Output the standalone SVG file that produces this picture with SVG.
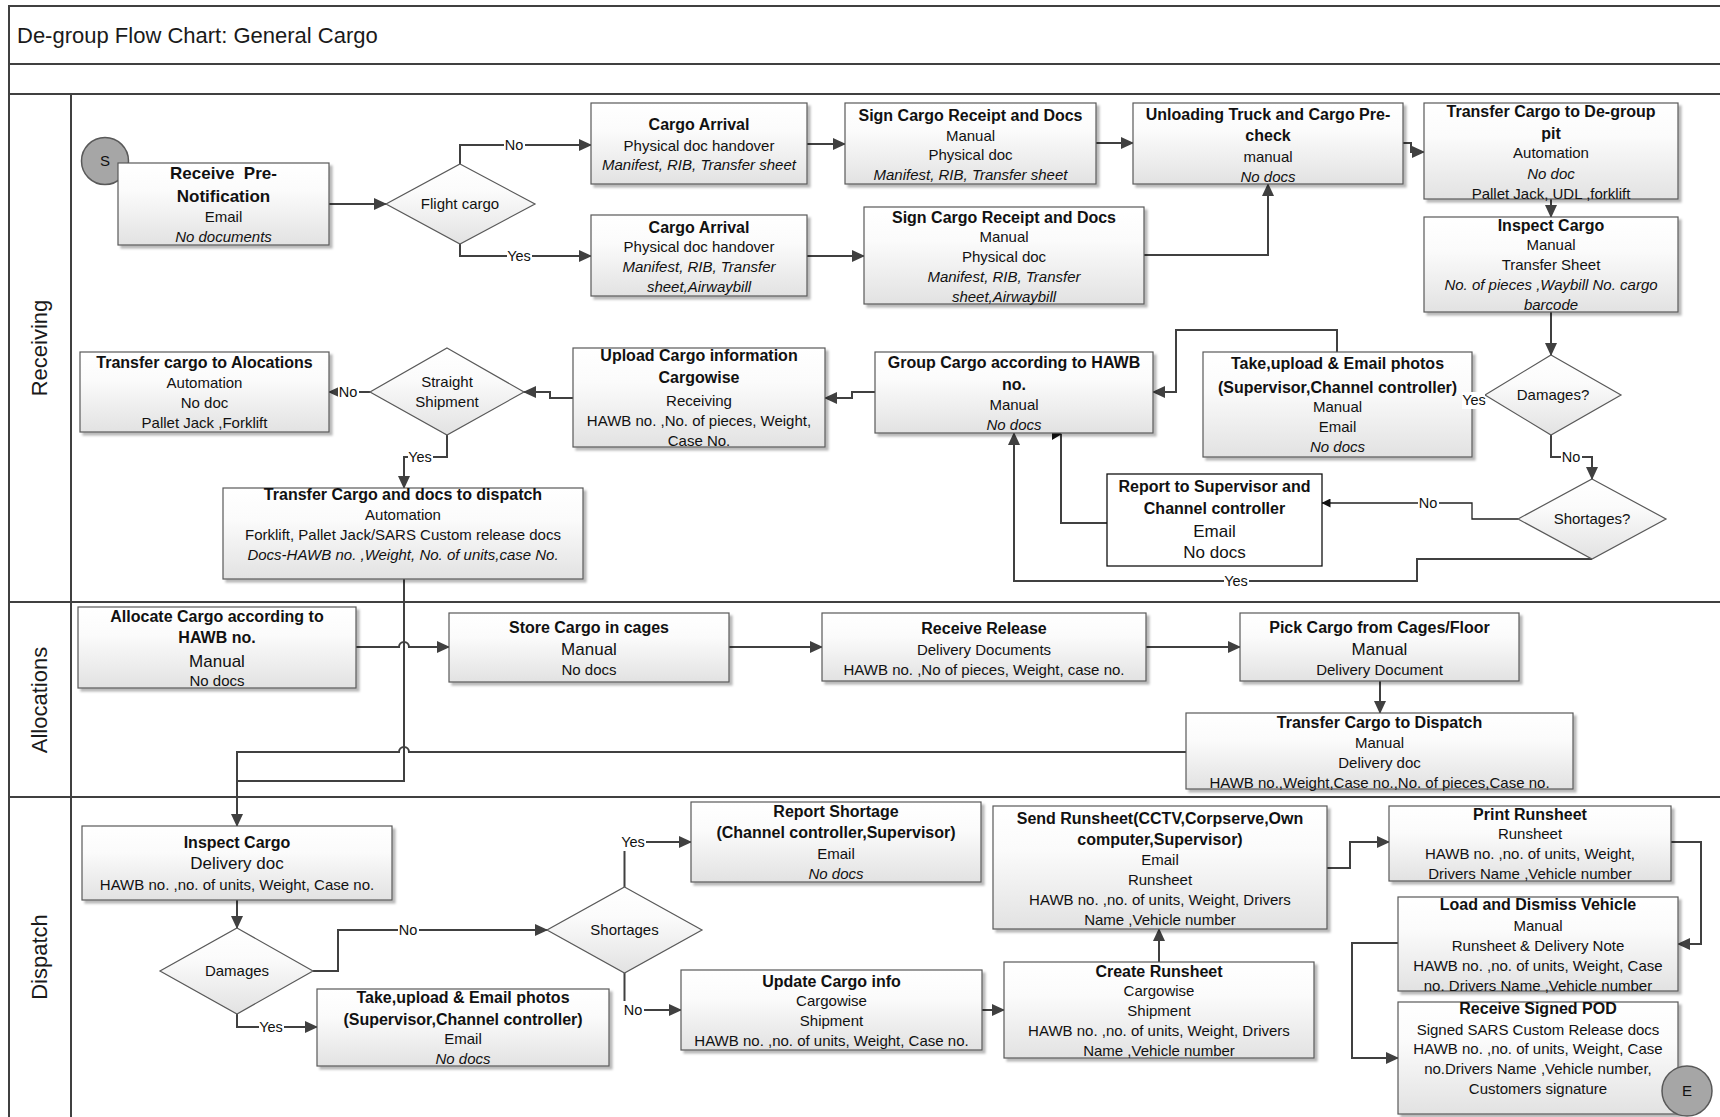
<svg xmlns="http://www.w3.org/2000/svg" width="1720" height="1117" viewBox="0 0 1720 1117">
<style>
  text { font-family: 'Liberation Sans', Arial, sans-serif; fill: #111; text-anchor: middle; }
  .b { font-weight: bold; font-size: 16px; }
  .r { font-size: 15px; }
  .rl { font-size: 17px; }
  .i { font-size: 15px; font-style: italic; }
  .lb { font-size: 14.5px; }
  .box { fill: url(#gf); stroke: #595959; stroke-width: 1.2; filter: url(#sh); }
  .plain { fill: #fff; stroke: #111; stroke-width: 1.3; }
  .dia { fill: url(#gf); stroke: #595959; stroke-width: 1.2; }
  .term { fill: #a6a6a6; stroke: #595959; stroke-width: 1.5; }
  .c { fill: none; stroke: #404040; stroke-width: 2; marker-end: url(#ah); }
  .cn { fill: none; stroke: #404040; stroke-width: 2; }
  .ct { fill: none; stroke: #222; stroke-width: 1.3; }
  .lane { stroke: #404040; stroke-width: 2; fill: none; }
  .lt { font-size: 22px; fill: #1a1a1a; }
</style>
<defs>
  <linearGradient id="gf" x1="0" y1="0" x2="0" y2="1">
    <stop offset="0" stop-color="#ffffff"/>
    <stop offset="0.35" stop-color="#fbfbfb"/>
    <stop offset="1" stop-color="#e2e2e2"/>
  </linearGradient>
  <linearGradient id="gh" x1="0" y1="0" x2="0" y2="1">
    <stop offset="0" stop-color="#ffffff"/>
    <stop offset="1" stop-color="#f1f1f1"/>
  </linearGradient>
  <filter id="sh" x="-5%" y="-5%" width="115%" height="125%">
    <feDropShadow dx="3" dy="3" stdDeviation="1.2" flood-color="#000" flood-opacity="0.28"/>
  </filter>
  <marker id="ah" viewBox="0 0 13 12" refX="12" refY="6" markerWidth="13" markerHeight="12" orient="auto" markerUnits="userSpaceOnUse">
    <path d="M0,0 L13,6 L0,12 z" fill="#404040"/>
  </marker>
  <marker id="ahs" viewBox="0 0 9 9" refX="8.5" refY="4.5" markerWidth="9" markerHeight="9" orient="auto" markerUnits="userSpaceOnUse">
    <path d="M0,0 L9,4.5 L0,9 z" fill="#111"/>
  </marker>
</defs>

<!-- pool frame, title band and swim lanes -->
<g id="frame">
  <rect x="0" y="0" width="1720" height="1117" fill="#fff"/>
  <rect x="9" y="6" width="1720" height="58" fill="url(#gh)" class="lane"/>
  <rect x="9" y="64" width="1720" height="30" fill="url(#gh)" class="lane"/>
  <rect x="9" y="94" width="62" height="1030" fill="#fafafa" class="lane"/>
  <line x1="9" y1="94" x2="1720" y2="94" class="lane"/>
  <line x1="9" y1="602" x2="1720" y2="602" class="lane"/>
  <line x1="9" y1="797" x2="1720" y2="797" class="lane"/>
  <text x="17" y="43" style="font-size:22px;text-anchor:start;fill:#1a1a1a">De-group Flow Chart: General Cargo</text>
  <text class="lt" transform="translate(47,348) rotate(-90)">Receiving</text>
  <text class="lt" transform="translate(47,700) rotate(-90)">Allocations</text>
  <text class="lt" transform="translate(47,957) rotate(-90)">Dispatch</text>
</g>

<!-- connectors -->
<g id="connectors">
  <path class="c" d="M329,204 H386"/>
  <path class="c" d="M460,164 V145 H591"/>
  <path class="c" d="M460,244 V256 H591"/>
  <path class="c" d="M807,144 H845"/>
  <path class="c" d="M807,256 H864"/>
  <path class="c" d="M1096,143 H1133"/>
  <path class="c" d="M1144,255 H1268 V184"/>
  <path class="c" d="M1403,143 H1411 V152 H1424"/>
  <path class="c" d="M1551,199 V217"/>
  <path class="c" d="M1551,312 V355"/>
  <path class="c" d="M1337,352 V330 H1176 V392 H1153"/>
  <path class="c" d="M1551,435 V457 H1592 V479"/>
  <path class="ct" style="marker-end:url(#ahs)" d="M1518,519 H1472 V503 H1322"/>
  <path class="cn" d="M1107,523 H1061 V434"/>
  <polygon points="1052,428 1062,434 1052,440" fill="#111"/>
  <path class="c" d="M1592,559 H1417 V581 H1014 V433"/>
  <path class="c" d="M875,392 H852 V398 H825"/>
  <path class="c" d="M573,398 H550 V392 H524"/>
  <path class="c" d="M370,392 H329"/>
  <path class="c" d="M447,435 V457 H404 V488"/>
  <path class="cn" d="M404,579 V781 H237"/>
  <path class="c" d="M356,647 H399 A5,5 0 0 1 409,647 H449"/>
  <path class="c" d="M729,647 H822"/>
  <path class="c" d="M1146,647 H1240"/>
  <path class="c" d="M1380,681 V713"/>
  <path class="c" d="M1186,752 H409 A5,5 0 0 0 399,752 H237 V826"/>
  <path class="c" d="M237,900 V928"/>
  <path class="c" d="M313,971 H338 V930 H547"/>
  <path class="c" d="M237,1014 V1027 H317"/>
  <path class="c" d="M624.5,887 V842 H691"/>
  <path class="c" d="M624.5,973 V1010 H681"/>
  <path class="c" d="M982,1010 H1004"/>
  <path class="c" d="M1159,962 V929"/>
  <path class="c" d="M1327,868 H1350 V842 H1389"/>
  <path class="c" d="M1671,842 H1701 V944 H1678"/>
  <path class="c" d="M1398,943 H1352 V1058 H1398"/>

  <!-- branch labels -->
  <rect x="504" y="136" width="21" height="18" fill="#fff"/><text class="lb" x="514" y="150">No</text>
  <rect x="507" y="247" width="25" height="18" fill="#fff"/><text class="lb" x="519" y="261">Yes</text>
  <rect x="1561" y="448" width="21" height="18" fill="#fff"/><text class="lb" x="1571" y="462">No</text>
  <rect x="1418" y="494" width="21" height="18" fill="#fff"/><text class="lb" x="1428" y="508">No</text>
  <rect x="1224" y="572" width="25" height="18" fill="#fff"/><text class="lb" x="1236" y="586">Yes</text>
  <rect x="338" y="383" width="21" height="18" fill="#fff"/><text class="lb" x="348" y="397">No</text>
  <rect x="408" y="448" width="25" height="18" fill="#fff"/><text class="lb" x="420" y="462">Yes</text>
  <rect x="398" y="921" width="21" height="18" fill="#fff"/><text class="lb" x="408" y="935">No</text>
  <rect x="259" y="1018" width="25" height="18" fill="#fff"/><text class="lb" x="271" y="1032">Yes</text>
  <rect x="621" y="833" width="25" height="18" fill="#fff"/><text class="lb" x="633" y="847">Yes</text>
  <rect x="623" y="1001" width="21" height="18" fill="#fff"/><text class="lb" x="633" y="1015">No</text>
</g>

<!-- Receiving lane -->
<g id="n-start"><circle class="term" cx="105" cy="161" r="23.5"/><text class="r" x="105" y="166">S</text></g>
<g id="n-prenotify">
  <rect class="box" x="118" y="163" width="211" height="82"/>
  <text class="b" x="223.5" y="179" style="font-size:17px">Receive&#160; Pre-</text>
  <text class="b" x="223.5" y="202" style="font-size:17px">Notification</text>
  <text class="r" x="223.5" y="222">Email</text>
  <text class="i" x="223.5" y="242">No documents</text>
</g>
<g id="d-flight">
  <polygon class="dia" points="460,164 535,204 460,244 386,204"/>
  <text class="r" x="460" y="209">Flight cargo</text>
</g>
<g id="n-arrival-a">
  <rect class="box" x="591" y="103" width="216" height="81"/>
  <text class="b" x="699" y="129.5">Cargo Arrival</text>
  <text class="r" x="699" y="151">Physical doc handover</text>
  <text class="i" x="699" y="170">Manifest, RIB, Transfer sheet</text>
</g>
<g id="n-arrival-b">
  <rect class="box" x="591" y="215" width="216" height="81"/>
  <text class="b" x="699" y="232.5">Cargo Arrival</text>
  <text class="r" x="699" y="252">Physical doc handover</text>
  <text class="i" x="699" y="272">Manifest, RIB, Transfer</text>
  <text class="i" x="699" y="292">sheet,Airwaybill</text>
</g>
<g id="n-sign-a">
  <rect class="box" x="845" y="103" width="251" height="81"/>
  <text class="b" x="970.5" y="120.5">Sign Cargo Receipt and Docs</text>
  <text class="r" x="970.5" y="141">Manual</text>
  <text class="r" x="970.5" y="160">Physical doc</text>
  <text class="i" x="970.5" y="180">Manifest, RIB, Transfer sheet</text>
</g>
<g id="n-sign-b">
  <rect class="box" x="864" y="207" width="280" height="97"/>
  <text class="b" x="1004" y="222.5">Sign Cargo Receipt and Docs</text>
  <text class="r" x="1004" y="242">Manual</text>
  <text class="r" x="1004" y="262">Physical doc</text>
  <text class="i" x="1004" y="282">Manifest, RIB, Transfer</text>
  <text class="i" x="1004" y="302">sheet,Airwaybill</text>
</g>
<g id="n-unload">
  <rect class="box" x="1133" y="103" width="270" height="81"/>
  <text class="b" x="1268" y="119.5">Unloading Truck and Cargo Pre-</text>
  <text class="b" x="1268" y="140.5">check</text>
  <text class="r" x="1268" y="162">manual</text>
  <text class="i" x="1268" y="182">No docs</text>
</g>
<g id="n-pit">
  <rect class="box" x="1424" y="103" width="254" height="96"/>
  <text class="b" x="1551" y="116.5">Transfer Cargo to De-group</text>
  <text class="b" x="1551" y="138.5">pit</text>
  <text class="r" x="1551" y="158">Automation</text>
  <text class="i" x="1551" y="179">No doc</text>
  <text class="r" x="1551" y="199">Pallet Jack, UDL ,forklift</text>
</g>
<g id="n-inspect-r">
  <rect class="box" x="1424" y="217" width="254" height="95"/>
  <text class="b" x="1551" y="230.5">Inspect Cargo</text>
  <text class="r" x="1551" y="250">Manual</text>
  <text class="r" x="1551" y="270">Transfer Sheet</text>
  <text class="i" x="1551" y="290">No. of pieces ,Waybill No. cargo</text>
  <text class="i" x="1551" y="310">barcode</text>
</g>
<g id="d-damages-r">
  <polygon class="dia" points="1551,355 1621,395 1551,435 1485,395"/>
  <text class="r" x="1553" y="400">Damages?</text>
</g>
<g id="n-photos-r">
  <rect class="box" x="1203" y="352" width="269" height="105"/>
  <text class="b" x="1337.5" y="368.5">Take,upload &amp; Email photos</text>
  <text class="b" x="1337.5" y="392.5">(Supervisor,Channel controller)</text>
  <text class="r" x="1337.5" y="412">Manual</text>
  <text class="r" x="1337.5" y="432">Email</text>
  <text class="i" x="1337.5" y="452">No docs</text>
  <rect x="1462" y="392" width="23" height="17" fill="#fff"/>
  <text class="lb" x="1474" y="405">Yes</text>
</g>
<g id="n-group">
  <rect class="box" x="875" y="352" width="278" height="81"/>
  <text class="b" x="1014" y="367.5">Group Cargo according to HAWB</text>
  <text class="b" x="1014" y="389.5">no.</text>
  <text class="r" x="1014" y="410">Manual</text>
  <text class="i" x="1014" y="430">No docs</text>
</g>
<g id="d-shortages-r">
  <polygon class="dia" points="1592,479 1666,519 1592,559 1518,519"/>
  <text class="r" x="1592" y="524">Shortages?</text>
</g>
<g id="n-report-sup">
  <rect class="plain" x="1107" y="474" width="215" height="92"/>
  <text class="b" x="1214.5" y="491.5">Report to Supervisor and</text>
  <text class="b" x="1214.5" y="513.5">Channel controller</text>
  <text class="rl" x="1214.5" y="537">Email</text>
  <text class="rl" x="1214.5" y="558">No docs</text>
</g>
<g id="n-upload">
  <rect class="box" x="573" y="348" width="252" height="99"/>
  <text class="b" x="699" y="360.5">Upload Cargo information</text>
  <text class="b" x="699" y="382.5">Cargowise</text>
  <text class="r" x="699" y="406">Receiving</text>
  <text class="r" x="699" y="426">HAWB no. ,No. of pieces, Weight,</text>
  <text class="r" x="699" y="446">Case No.</text>
</g>
<g id="d-straight">
  <polygon class="dia" points="447,348 524,392 447,435 370,392"/>
  <text class="r" x="447" y="387">Straight</text>
  <text class="r" x="447" y="407">Shipment</text>
</g>
<g id="n-to-alloc">
  <rect class="box" x="80" y="352" width="249" height="80"/>
  <text class="b" x="204.5" y="367.5">Transfer cargo to Alocations</text>
  <text class="r" x="204.5" y="388">Automation</text>
  <text class="r" x="204.5" y="408">No doc</text>
  <text class="r" x="204.5" y="428">Pallet Jack ,Forklift</text>
</g>
<g id="n-to-dispatch-r">
  <rect class="box" x="223" y="488" width="360" height="91"/>
  <text class="b" x="403" y="499.5">Transfer Cargo and docs to dispatch</text>
  <text class="r" x="403" y="520">Automation</text>
  <text class="r" x="403" y="540">Forklift, Pallet Jack/SARS Custom release docs</text>
  <text class="i" x="403" y="560">Docs-HAWB no. ,Weight, No. of units,case No.</text>
</g>

<!-- Allocations lane -->
<g id="n-allocate">
  <rect class="box" x="78" y="607" width="278" height="81"/>
  <text class="b" x="217" y="621.5">Allocate Cargo according to</text>
  <text class="b" x="217" y="642.5">HAWB no.</text>
  <text class="rl" x="217" y="666.5">Manual</text>
  <text class="r" x="217" y="686">No docs</text>
</g>
<g id="n-store">
  <rect class="box" x="449" y="613" width="280" height="69"/>
  <text class="b" x="589" y="632.5">Store Cargo in cages</text>
  <text class="rl" x="589" y="655">Manual</text>
  <text class="r" x="589" y="675">No docs</text>
</g>
<g id="n-release">
  <rect class="box" x="822" y="613" width="324" height="68"/>
  <text class="b" x="984" y="633.5">Receive Release</text>
  <text class="r" x="984" y="655">Delivery Documents</text>
  <text class="r" x="984" y="675">HAWB no. ,No of pieces, Weight, case no.</text>
</g>
<g id="n-pick">
  <rect class="box" x="1240" y="613" width="279" height="68"/>
  <text class="b" x="1379.5" y="632.5">Pick Cargo from Cages/Floor</text>
  <text class="rl" x="1379.5" y="655">Manual</text>
  <text class="r" x="1379.5" y="675">Delivery Document</text>
</g>
<g id="n-to-dispatch-a">
  <rect class="box" x="1186" y="713" width="387" height="76"/>
  <text class="b" x="1379.5" y="727.5">Transfer Cargo to Dispatch</text>
  <text class="r" x="1379.5" y="748">Manual</text>
  <text class="r" x="1379.5" y="768">Delivery doc</text>
  <text class="r" x="1379.5" y="788">HAWB no.,Weight,Case no.,No. of pieces,Case no.</text>
</g>

<!-- Dispatch lane -->
<g id="n-inspect-d">
  <rect class="box" x="82" y="826" width="310" height="74"/>
  <text class="b" x="237" y="847.5">Inspect Cargo</text>
  <text class="rl" x="237" y="869">Delivery doc</text>
  <text class="r" x="237" y="890">HAWB no. ,no. of units, Weight, Case no.</text>
</g>
<g id="d-damages-d">
  <polygon class="dia" points="237,928 313,971 237,1014 160,971"/>
  <text class="r" x="237" y="976">Damages</text>
</g>
<g id="d-shortages-d">
  <polygon class="dia" points="624.5,887 702,930 624.5,973 547,930"/>
  <text class="r" x="624.5" y="935">Shortages</text>
</g>
<g id="n-photos-d">
  <rect class="box" x="317" y="989" width="292" height="77"/>
  <text class="b" x="463" y="1002.5">Take,upload &amp; Email photos</text>
  <text class="b" x="463" y="1024.5">(Supervisor,Channel controller)</text>
  <text class="r" x="463" y="1044">Email</text>
  <text class="i" x="463" y="1064">No docs</text>
</g>
<g id="n-report-short">
  <rect class="box" x="691" y="802" width="290" height="80"/>
  <text class="b" x="836" y="816.5">Report Shortage</text>
  <text class="b" x="836" y="837.5">(Channel controller,Supervisor)</text>
  <text class="r" x="836" y="859">Email</text>
  <text class="i" x="836" y="879">No docs</text>
</g>
<g id="n-update">
  <rect class="box" x="681" y="970" width="301" height="80"/>
  <text class="b" x="831.5" y="986.5">Update Cargo info</text>
  <text class="r" x="831.5" y="1006">Cargowise</text>
  <text class="r" x="831.5" y="1026">Shipment</text>
  <text class="r" x="831.5" y="1046">HAWB no. ,no. of units, Weight, Case no.</text>
</g>
<g id="n-create-rs">
  <rect class="box" x="1004" y="962" width="310" height="96"/>
  <text class="b" x="1159" y="976.5">Create Runsheet</text>
  <text class="r" x="1159" y="996">Cargowise</text>
  <text class="r" x="1159" y="1016">Shipment</text>
  <text class="r" x="1159" y="1036">HAWB no. ,no. of units, Weight, Drivers</text>
  <text class="r" x="1159" y="1056">Name ,Vehicle number</text>
</g>
<g id="n-send-rs">
  <rect class="box" x="993" y="806" width="334" height="123"/>
  <text class="b" x="1160" y="823.5">Send Runsheet(CCTV,Corpserve,Own</text>
  <text class="b" x="1160" y="844.5">computer,Supervisor)</text>
  <text class="r" x="1160" y="865">Email</text>
  <text class="r" x="1160" y="885">Runsheet</text>
  <text class="r" x="1160" y="905">HAWB no. ,no. of units, Weight, Drivers</text>
  <text class="r" x="1160" y="925">Name ,Vehicle number</text>
</g>
<g id="n-print-rs">
  <rect class="box" x="1389" y="806" width="282" height="75"/>
  <text class="b" x="1530" y="819.5">Print Runsheet</text>
  <text class="r" x="1530" y="839">Runsheet</text>
  <text class="r" x="1530" y="859">HAWB no. ,no. of units, Weight,</text>
  <text class="r" x="1530" y="879">Drivers Name ,Vehicle number</text>
</g>
<g id="n-load">
  <rect class="box" x="1398" y="897" width="280" height="94"/>
  <text class="b" x="1538" y="909.5">Load and Dismiss Vehicle</text>
  <text class="r" x="1538" y="931">Manual</text>
  <text class="r" x="1538" y="951">Runsheet &amp; Delivery Note</text>
  <text class="r" x="1538" y="971">HAWB no. ,no. of units, Weight, Case</text>
  <text class="r" x="1538" y="991">no. Drivers Name ,Vehicle number</text>
</g>
<g id="n-pod">
  <rect class="box" x="1398" y="1002" width="280" height="112"/>
  <text class="b" x="1538" y="1013.5">Receive Signed POD</text>
  <text class="r" x="1538" y="1035">Signed SARS Custom Release docs</text>
  <text class="r" x="1538" y="1054">HAWB no. ,no. of units, Weight, Case</text>
  <text class="r" x="1538" y="1074">no.Drivers Name ,Vehicle number,</text>
  <text class="r" x="1538" y="1094">Customers signature</text>
</g>
<g id="n-end"><circle class="term" cx="1687" cy="1091" r="25"/><text class="r" x="1687" y="1096">E</text></g>
</svg>
